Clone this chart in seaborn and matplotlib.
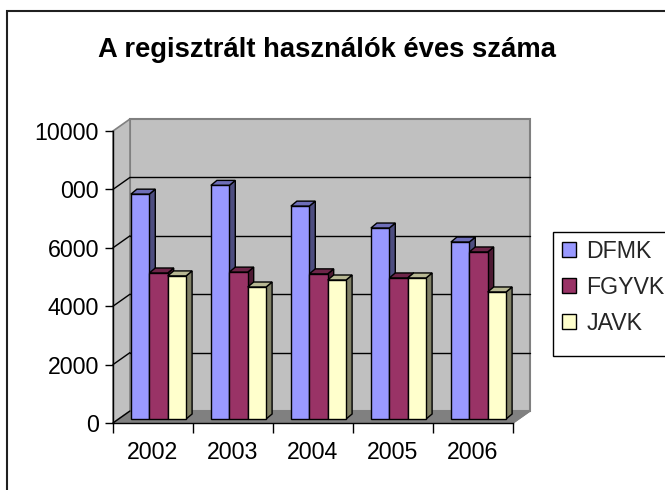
import numpy as np
import pandas as pd
import matplotlib
matplotlib.use("Agg")
import matplotlib.pyplot as plt
import matplotlib.transforms as mtransforms
from matplotlib.patches import Polygon, Rectangle
from matplotlib.lines import Line2D
import matplotlib.colors as mcolors
import seaborn as sns

# values
years = ["2002", "2003", "2004", "2005", "2006"]
dfmk = [7700, 8000, 7290, 6540, 6060]
fgyvk = [5000, 5030, 4970, 4830, 5720]
javk = [4900, 4520, 4760, 4830, 4350]
series = ["DFMK", "FGYVK", "JAVK"]
colors = ["#9999FF", "#993366", "#FFFFCC"]
ytick_vals = [0, 2000, 4000, 6000, 8000, 10000]
ytick_labels = ["0", "2000", "4000", "6000", "000", "10000"]

df = pd.DataFrame({
    "year": years * 3,
    "value": dfmk + fgyvk + javk,
    "series": np.repeat(series, len(years)),
})

sns.set_theme(style="white")
plt.rcParams["font.family"] = ["Liberation Sans", "DejaVu Sans"]

W, H = 665, 490
fig = plt.figure(figsize=(W / 100, H / 100), dpi=100)
fig.patch.set_facecolor("white")
ax = fig.add_axes([113 / W, 1 - 423 / H, 400 / W, 292 / H])
ax.patch.set_visible(False)

sns.barplot(data=df, x="year", y="value", hue="series", palette=colors,
            width=0.69, saturation=1, edgecolor="black", linewidth=1, ax=ax)
# keep only the real bars (the legend adds empty ones)
bars = [p for p in ax.patches if p.get_height() > 0]
handles, labels = ax.get_legend_handles_labels()
ax.get_legend().remove()

ax.set_xlim(-0.5, 4.5)
ax.set_ylim(0, 10000)
ax.set_xlabel("")
ax.set_ylabel("")
ax.set_yticks(ytick_vals)
ax.set_yticklabels(ytick_labels)
ax.set_xticks(np.arange(-0.5, 5, 1), minor=True)
for s in ["top", "right"]:
    ax.spines[s].set_visible(False)
for s in ["left", "bottom"]:
    ax.spines[s].set_color("black")
    ax.spines[s].set_linewidth(1)
    ax.spines[s].set_zorder(5)
ax.tick_params(axis="y", left=True, direction="out", length=6, width=1,
               color="black", pad=4, labelsize=16.7, labelcolor="black")
ax.tick_params(axis="x", which="major", bottom=True, length=0, pad=13,
               labelsize=16.7, labelcolor="black")
ax.tick_params(axis="x", which="minor", bottom=True, direction="out",
               length=7, width=1, color="black")

# pseudo 3d box in pixel space
ident = mtransforms.IdentityTransform()
def to_px(x, y):
    return np.array(ax.transData.transform((x, y)))

off = np.array([17, 12])
x0, x1 = -0.5, 4.5
fl, fr = to_px(x0, 0), to_px(x1, 0)
tl, tr = to_px(x0, 10000), to_px(x1, 10000)

ax.add_patch(Polygon([fl + off, fr + off, tr + off, tl + off], closed=True,
                     facecolor="#C0C0C0", edgecolor="#808080", lw=1.5,
                     transform=ident, clip_on=False, zorder=0.3))
ax.add_patch(Polygon([fl, fl + off, tl + off, tl], closed=True,
                     facecolor="#C0C0C0", edgecolor="#808080", lw=1.2,
                     transform=ident, clip_on=False, zorder=0.4))
ax.add_patch(Polygon([fl, fr, fr + off, fl + off], closed=True,
                     facecolor="#808080", edgecolor="#808080", lw=1,
                     transform=ident, clip_on=False, zorder=0.4))
for v in ytick_vals[1:-1]:
    a, b = to_px(x0, v), to_px(x1, v)
    ax.add_line(Line2D([a[0] + off[0], b[0] + off[0]], [a[1] + off[1], b[1] + off[1]],
                       color="black", lw=1, transform=ident, clip_on=False, zorder=0.5))
for v in ytick_vals[:-1]:
    a = to_px(x0, v)
    ax.add_line(Line2D([a[0], a[0] + off[0]], [a[1], a[1] + off[1]],
                       color="black", lw=1, transform=ident, clip_on=False, zorder=0.5))
a = fr
ax.add_line(Line2D([a[0], a[0] + off[0]], [a[1], a[1] + off[1]],
                   color="#808080", lw=1, transform=ident, clip_on=False, zorder=0.5))

# 3d bars: front from seaborn, side and top faces derived from each bar
shift = np.array([5.5, 4])
depth = np.array([6, 5])
bars = sorted(bars, key=lambda p: p.get_x())
for i, p in enumerate(bars):
    z = 2 + i * 0.01
    p.set_transform(ax.transData + mtransforms.Affine2D().translate(*shift))
    p.set_zorder(z + 0.005)
    p.set_clip_on(False)
    base = np.array(mcolors.to_rgb(p.get_facecolor()))
    lo = to_px(p.get_x(), 0) + shift
    hi = to_px(p.get_x() + p.get_width(), p.get_height()) + shift
    xl, yb, xr, yt = lo[0], lo[1], hi[0], hi[1]
    ax.add_patch(Polygon([(xr, yb), (xr + depth[0], yb + depth[1]),
                          (xr + depth[0], yt + depth[1]), (xr, yt)], closed=True,
                         facecolor=base * 0.5, edgecolor="black", lw=1,
                         transform=ident, clip_on=False, zorder=z))
    ax.add_patch(Polygon([(xl, yt), (xr, yt), (xr + depth[0], yt + depth[1]),
                          (xl + depth[0], yt + depth[1])], closed=True,
                         facecolor=base * 0.72, edgecolor="black", lw=1,
                         transform=ident, clip_on=False, zorder=z))

fig.text(327 / W, 1 - 50 / H, "A regisztrált használók éves száma",
         ha="center", va="center", fontsize=19.7, fontweight="bold", color="black")

# legend
for h in handles:
    h.set_edgecolor("black")
    h.set_linewidth(1)
fig.add_artist(Rectangle((553 / W, 1 - 356 / H), 150 / W, 124 / H,
                         transform=fig.transFigure, facecolor="white",
                         edgecolor="black", lw=1))
fig.legend(handles, labels, loc="upper left", bbox_to_anchor=(562 / W, 1 - 240 / H),
           frameon=False, fontsize=16.7, handlelength=0.6, handleheight=0.6,
           handletextpad=0.45, labelspacing=0.55, borderpad=0, borderaxespad=0)

# outer chart border
fig.add_artist(Rectangle((7 / W, -0.1), 1.2, (H - 11) / H + 0.1,
                         transform=fig.transFigure, fill=False,
                         edgecolor="#202020", lw=1.5))

fig.savefig("out.png", dpi=100)
